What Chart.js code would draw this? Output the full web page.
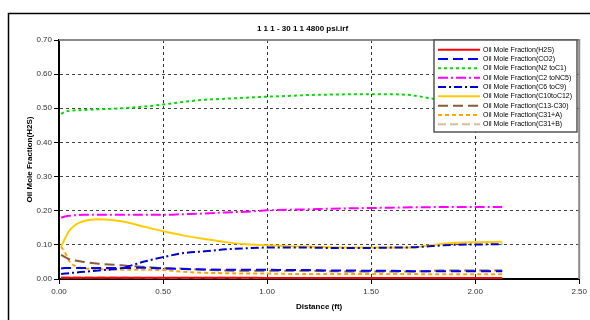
<!DOCTYPE html>
<html>
<head>
<meta charset="utf-8">
<script src="https://cdn.jsdelivr.net/npm/chart.js@4"></script>
<style>
  html, body { margin: 0; padding: 0; background: #fff; }
  #wrap { width: 590px; height: 320px; position: relative; }
</style>
</head>
<body>
<div id="wrap"><canvas id="chart" width="590" height="320"></canvas></div>
<script>
// Distance along the tube (ft)
const distance = [0.01, 0.03, 0.05, 0.08, 0.12, 0.19, 0.30, 0.41, 0.50, 0.60, 0.70, 0.80, 0.90,
  1.00, 1.10, 1.20, 1.30, 1.40, 1.50, 1.60, 1.70, 1.76, 1.83, 1.90, 2.00, 2.13];

// Oil mole fractions
const h2s = [0.004, 0.004, 0.004, 0.004, 0.004, 0.004, 0.004, 0.004, 0.004, 0.004, 0.004, 0.004, 0.004,
  0.003, 0.003, 0.003, 0.003, 0.003, 0.003, 0.003, 0.003, 0.003, 0.003, 0.003, 0.003, 0.003];
const co2 = [0.031, 0.032, 0.032, 0.032, 0.032, 0.032, 0.032, 0.033, 0.031, 0.029, 0.028, 0.027, 0.027,
  0.027, 0.026, 0.026, 0.025, 0.025, 0.024, 0.024, 0.023, 0.023, 0.023, 0.023, 0.023, 0.023];
const n2c1 = [0.484, 0.490, 0.493, 0.494, 0.495, 0.497, 0.500, 0.505, 0.511, 0.519, 0.525, 0.528, 0.531,
  0.534, 0.536, 0.539, 0.540, 0.541, 0.541, 0.541, 0.538, 0.532, 0.525, 0.520, 0.515, 0.510];
const c2nc5 = [0.180, 0.183, 0.185, 0.187, 0.188, 0.188, 0.188, 0.188, 0.188, 0.190, 0.192, 0.195, 0.197,
  0.201, 0.203, 0.204, 0.206, 0.207, 0.208, 0.209, 0.210, 0.210, 0.211, 0.211, 0.211, 0.211];
const c6c9 = [0.015, 0.016, 0.017, 0.019, 0.021, 0.025, 0.032, 0.051, 0.064, 0.076, 0.081, 0.087, 0.090,
  0.092, 0.092, 0.092, 0.091, 0.091, 0.091, 0.092, 0.093, 0.095, 0.098, 0.100, 0.101, 0.102];
const c10c12 = [0.095, 0.120, 0.142, 0.159, 0.170, 0.175, 0.169, 0.153, 0.140, 0.127, 0.117, 0.108, 0.102,
  0.099, 0.096, 0.095, 0.093, 0.092, 0.092, 0.092, 0.092, 0.097, 0.102, 0.106, 0.108, 0.109];
const c13c30 = [0.071, 0.064, 0.058, 0.054, 0.050, 0.045, 0.040, 0.035, 0.032, 0.030, 0.027, 0.025, 0.024,
  0.024, 0.024, 0.024, 0.023, 0.022, 0.022, 0.022, 0.022, 0.023, 0.025, 0.025, 0.025, 0.025];
const c31a = [0.095, 0.076, 0.052, 0.037, 0.031, 0.029, 0.027, 0.027, 0.026, 0.021, 0.018, 0.017, 0.016,
  0.016, 0.015, 0.015, 0.015, 0.015, 0.015, 0.015, 0.015, 0.014, 0.014, 0.014, 0.014, 0.014];
const c31b = [0.005, 0.005, 0.005, 0.005, 0.005, 0.005, 0.005, 0.004, 0.004, 0.004, 0.004, 0.004, 0.003,
  0.003, 0.003, 0.003, 0.003, 0.003, 0.003, 0.003, 0.003, 0.003, 0.003, 0.003, 0.003, 0.003];

const seriesLabels = [
  'Oil Mole Fraction(H2S)', 'Oil Mole Fraction(CO2)', 'Oil Mole Fraction(N2 toC1)',
  'Oil Mole Fraction(C2 toNC5)', 'Oil Mole Fraction(C6 toC9)', 'Oil Mole Fraction(C10toC12)',
  'Oil Mole Fraction(C13-C30)', 'Oil Mole Fraction(C31+A)', 'Oil Mole Fraction(C31+B)'
];
const xTicks = [0, 0.5, 1.0, 1.5, 2.0, 2.5];
const yTicks = [0, 0.1, 0.2, 0.3, 0.4, 0.5, 0.6, 0.7];

const seriesValues = [h2s, co2, n2c1, c2nc5, c6c9, c10c12, c13c30, c31a, c31b];
const colors = ['#ff0000', '#0000ff', '#00dd00', '#ff00ff', '#0000c8', '#ffcc00', '#8b5a3a', '#ffa500', '#d8bc98'];
const dashes = [[], [10, 5], [3, 3], [10, 3, 2, 3], [8, 3, 2, 3], [], [10, 5], [4, 3], [8, 4]];

const datasets = seriesValues.map((vals, i) => ({
  label: seriesLabels[i],
  data: distance.map((d, j) => ({ x: d, y: vals[j] })),
  borderColor: colors[i],
  backgroundColor: colors[i],
  borderDash: dashes[i],
  borderWidth: 2,
  pointRadius: 0,
  cubicInterpolationMode: 'monotone',
  fill: false
}));

// Outer frame, plot frame and the boxed legend drawn inside the plot
const framePlugin = {
  id: 'frame',
  beforeDraw(chart) {
    const ctx = chart.ctx;
    ctx.save();
    ctx.fillStyle = '#fff';
    ctx.fillRect(0, 0, chart.width, chart.height);
    ctx.strokeStyle = '#000';
    ctx.lineWidth = 1.5;
    ctx.beginPath();
    ctx.moveTo(8.5, chart.height);
    ctx.lineTo(8.5, 13.5);
    ctx.lineTo(chart.width, 13.5);
    ctx.stroke();
    ctx.restore();
  },
  beforeDatasetsDraw(chart) {
    const { ctx, chartArea: a } = chart;
    ctx.save();
    ctx.strokeStyle = '#8a8a8a';
    ctx.lineWidth = 2;
    ctx.beginPath();
    ctx.moveTo(a.left, a.top);
    ctx.lineTo(a.right, a.top);
    ctx.lineTo(a.right, a.bottom);
    ctx.stroke();
    ctx.restore();
  },
  afterDraw(chart) {
    const ctx = chart.ctx;
    const bx = 434, by = 40, bw = 143, bh = 92;
    ctx.save();
    ctx.fillStyle = '#fff';
    ctx.fillRect(bx, by, bw, bh);
    ctx.strokeStyle = '#555';
    ctx.lineWidth = 1.5;
    ctx.strokeRect(bx, by, bw, bh);
    ctx.font = '7px "Liberation Sans", Arial, sans-serif';
    ctx.textBaseline = 'middle';
    chart.data.datasets.forEach((ds, i) => {
      const y = by + 9.7 + i * 9.33;
      ctx.strokeStyle = ds.borderColor;
      ctx.lineWidth = 2;
      ctx.setLineDash(ds.borderDash);
      ctx.beginPath();
      ctx.moveTo(bx + 4, y);
      ctx.lineTo(bx + 46, y);
      ctx.stroke();
      ctx.setLineDash([]);
      ctx.fillStyle = '#000';
      ctx.fillText(ds.label, bx + 49, y);
    });
    ctx.restore();
  }
};

const tickFont = { family: '"Liberation Sans", Arial, sans-serif', size: 8 };

new Chart(document.getElementById('chart'), {
  type: 'line',
  data: { datasets },
  plugins: [framePlugin],
  options: {
    responsive: false,
    animation: false,
    layout: { padding: { left: 24, right: 9, top: 0, bottom: 0 } },
    plugins: {
      legend: { display: false },
      tooltip: { enabled: false },
      title: {
        display: true,
        text: '1 1 1 - 30 1 1 4800 psi.irf',
        color: '#000',
        font: { family: '"Liberation Sans", Arial, sans-serif', size: 8, weight: 'bold' },
        padding: { top: 24, bottom: 6.4 }
      }
    },
    scales: {
      x: {
        type: 'linear',
        min: 0,
        max: 2.5,
        afterBuildTicks: s => { s.ticks = xTicks.map(v => ({ value: v })); },
        afterFit: s => { s.height = 41; },
        ticks: {
          color: '#333',
          font: tickFont,
          padding: 3,
          maxRotation: 0,
          callback: v => v.toFixed(2)
        },
        grid: {
          color: c => (c.tick && (c.tick.value === 0 || c.tick.value === 2.5)) ? 'rgba(0,0,0,0)' : '#333',
          lineWidth: 1,
          tickColor: '#000',
          tickLength: 5
        },
        border: { display: true, color: '#000', width: 2, dash: [3, 3] },
        title: {
          display: true,
          text: 'Distance (ft)',
          color: '#000',
          font: { family: '"Liberation Sans", Arial, sans-serif', size: 8, weight: 'bold' },
          padding: { top: 0, bottom: 8 }
        }
      },
      y: {
        type: 'linear',
        min: 0,
        max: 0.7,
        afterBuildTicks: s => { s.ticks = yTicks.map(v => ({ value: v })); },
        afterFit: s => { s.width = 35; },
        ticks: {
          color: '#333',
          font: tickFont,
          padding: 2,
          callback: v => v.toFixed(2)
        },
        grid: {
          color: c => (c.tick && (c.tick.value === 0 || c.tick.value === 0.7)) ? 'rgba(0,0,0,0)' : '#444',
          lineWidth: 1,
          tickColor: '#000',
          tickLength: 5
        },
        border: { display: true, color: '#000', width: 2, dash: [3, 3] },
        title: {
          display: true,
          text: 'Oil Mole Fraction(H2S)',
          color: '#000',
          font: { family: '"Liberation Sans", Arial, sans-serif', size: 8, weight: 'bold' },
          padding: { top: 1, bottom: 0 }
        }
      }
    }
  }
});
</script>
</body>
</html>
